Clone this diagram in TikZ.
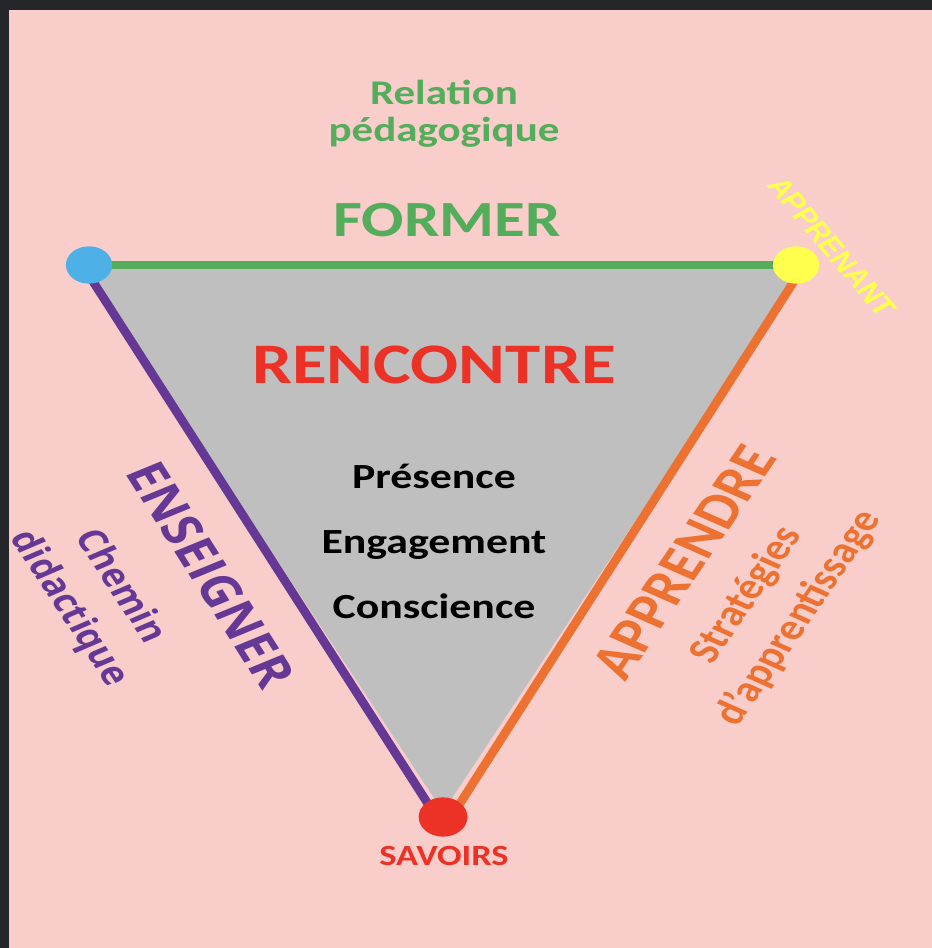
\documentclass[tikz,border=0pt]{standalone}
\usepackage{fontspec}
\setmainfont{Carlito}
\newfontfamily\apfont{Liberation Sans}
\newfontfamily\ensfont{Open Sans}

\definecolor{fond}{RGB}{248,205,202}
\definecolor{bord}{RGB}{36,38,42}
\definecolor{gris}{RGB}{191,191,191}
\definecolor{vert}{RGB}{83,173,91}
\definecolor{rouge}{RGB}{236,50,38}
\definecolor{violet}{RGB}{102,56,150}
\definecolor{orange}{RGB}{237,114,50}
\definecolor{jaune}{RGB}{255,255,77}
\definecolor{bleu}{RGB}{77,177,232}

\begin{document}
\begin{tikzpicture}[x=0.6048pt, y=-0.75pt, xscale=1.24,
    every node/.style={transform shape, inner sep=0pt},
    dot/.style={circle, minimum size=28pt},
    side/.style={line width=6.5pt},
    lbl/.style={font=\bfseries}]
  % fond
  \fill [bord] (0,0) rectangle (932,948);
  \fill [fond] (9,10) rectangle (932,948);
  \useasboundingbox (0,0) rectangle (932,948);

  % sommets
  \coordinate (prof) at (89,265);
  \coordinate (apprenant) at (796,265);
  \coordinate (savoirs) at (443,817);

  % triangle
  \fill [gris] ([xshift=-4pt]prof) -- ([xshift=5pt]apprenant) -- ([yshift=4pt]savoirs) -- cycle;
  \draw [side, vert] (prof) -- (apprenant);
  \draw [side, violet] ([xshift=-4pt]prof) -- ([xshift=-4pt]savoirs);
  \draw [side, orange] ([xshift=5pt]apprenant) -- ([xshift=5pt]savoirs);

  \node [dot, fill=bleu] (p) at (prof) {};
  \node [dot, fill=jaune] (a) at (apprenant) {};
  \node [dot, fill=rouge, minimum size=29.5pt] (s) at (savoirs) {};

  % textes
  \node [lbl, vert, font=\bfseries\fontsize{26}{28}\selectfont, align=center] (relation) at (444,114) {Relation\\pédagogique};
  \node [lbl, vert, font=\bfseries\fontsize{38}{40}\selectfont, anchor=base] (former) at (447,237) {FORMER};
  \node [lbl, rouge, font=\bfseries\fontsize{43}{45}\selectfont, anchor=base] (rencontre) at (434,383) {RENCONTRE};
  \node [lbl, font=\bfseries\fontsize{26.5}{28}\selectfont, anchor=base] (presence) at (434,488) {Présence};
  \node [lbl, font=\bfseries\fontsize{26.5}{28}\selectfont, anchor=base] (engagement) at (434,553) {Engagement};
  \node [lbl, font=\bfseries\fontsize{26.5}{28}\selectfont, anchor=base] (conscience) at (434,618) {Conscience};
  \node [lbl, rouge, font=\bfseries\fontsize{22}{24}\selectfont, anchor=base] (savoirstxt) at (444,865) {SAVOIRS};

  \node [jaune, font=\apfont\bfseries\fontsize{19.5}{21}\selectfont, rotate=-55.5] (apprenanttxt) at (832,247) {APPRENANT};

  \node [violet, font=\ensfont\bfseries\fontsize{33}{35}\selectfont, rotate=-63] (enseigner) at (211,575) {ENSEIGNER};
  \node [violet, font=\ensfont\bfseries\fontsize{24}{35}\selectfont, rotate=-62, align=center] (chemin) at (94,598) {Chemin\\didactique};

  \node [orange, font=\bfseries\fontsize{38}{40}\selectfont, rotate=61.3] (apprendre) at (684,562) {APPRENDRE};
  \node [orange, font=\bfseries\fontsize{27.5}{36}\selectfont, rotate=61, align=center] (strategies) at (773,607) {Stratégies\\d'apprentissage};
\end{tikzpicture}
\end{document}
